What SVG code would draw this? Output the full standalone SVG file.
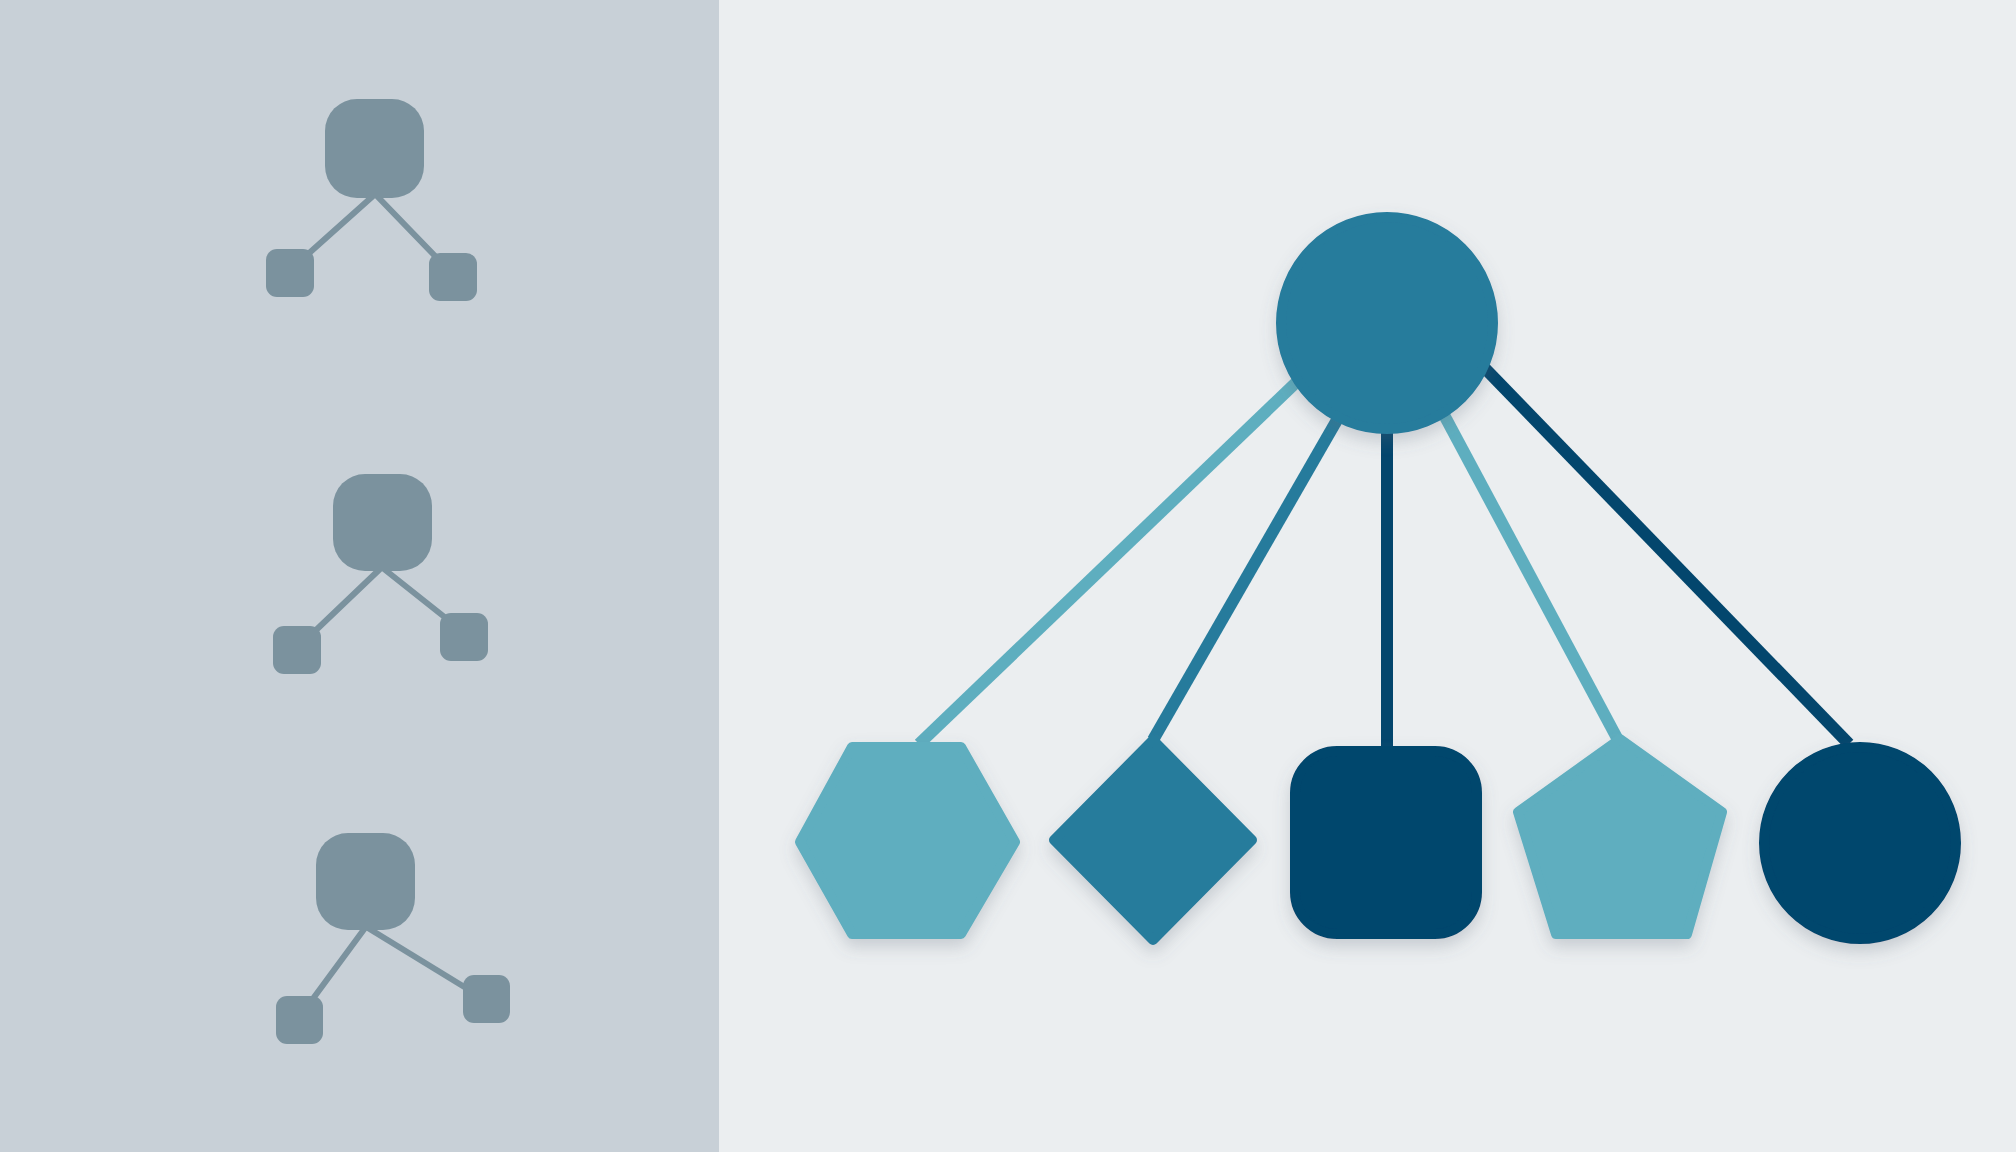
<svg xmlns="http://www.w3.org/2000/svg" width="2016" height="1152" viewBox="0 0 2016 1152">
<defs>
<filter id="sh" x="-20%" y="-20%" width="140%" height="150%">
<feDropShadow dx="0" dy="8" stdDeviation="8" flood-color="#5a6a78" flood-opacity="0.25"/>
</filter>
<style>
.mini{fill:#7b929e}
.mline{stroke:#7b929e;stroke-width:6;stroke-linecap:round;fill:none}
.node{stroke-width:10;stroke-linejoin:round;filter:url(#sh)}
.con{stroke-width:12;fill:none}
.light{fill:#5eaebf;stroke:#5eaebf}
.mid{fill:#267b9c;stroke:#267b9c}
.dark{fill:#03466d;stroke:#03466d}
</style>
</defs>
<rect x="0" y="0" width="2016" height="1152" fill="#ebeef0"/>
<rect x="0" y="0" width="719" height="1152" fill="#c8d0d7"/>

<g id="mini-tree-1">
<line class="mline" x1="373" y1="196" x2="307" y2="255"/>
<line class="mline" x1="377" y1="196" x2="437" y2="258"/>
<rect class="mini" x="325" y="99" width="99" height="99" rx="32"/>
<rect class="mini" x="266" y="249" width="48" height="48" rx="11"/>
<rect class="mini" x="429" y="253" width="48" height="48" rx="11"/>
</g>
<g id="mini-tree-2">
<line class="mline" x1="380" y1="569" x2="314" y2="632"/>
<line class="mline" x1="384" y1="569" x2="447" y2="619"/>
<rect class="mini" x="333" y="474" width="99" height="97" rx="32"/>
<rect class="mini" x="273" y="626" width="48" height="48" rx="11"/>
<rect class="mini" x="440" y="613" width="48" height="48" rx="11"/>
</g>
<g id="mini-tree-3">
<line class="mline" x1="365" y1="928" x2="312" y2="1000"/>
<line class="mline" x1="368" y1="928" x2="466" y2="988"/>
<rect class="mini" x="316" y="833" width="99" height="97" rx="32"/>
<rect class="mini" x="276" y="996" width="47" height="48" rx="11"/>
<rect class="mini" x="463" y="975" width="47" height="48" rx="11"/>
</g>

<g id="connectors">
<line class="con" stroke="#5eaebf" x1="1330" y1="350" x2="919" y2="744"/>
<line class="con" stroke="#267b9c" x1="1360" y1="380" x2="1153" y2="740"/>
<line class="con" stroke="#03466d" x1="1387" y1="400" x2="1387" y2="748"/>
<line class="con" stroke="#5eaebf" x1="1420" y1="370" x2="1617" y2="738"/>
<line class="con" stroke="#03466d" x1="1440" y1="322" x2="1849" y2="744"/>
</g>

<g id="root">
<circle class="node mid" cx="1387" cy="323" r="106"/>
</g>
<g id="hexagon">
<path class="node light" d="M852,747 L961,747 L1015,842 L961,934 L852,934 L800,842 Z"/>
</g>
<g id="diamond">
<path class="node mid" d="M1153,740 L1252,840 L1153,940 L1054,840 Z"/>
</g>
<g id="square">
<rect class="node dark" x="1295" y="751" width="182" height="183" rx="42"/>
</g>
<g id="pentagon">
<path class="node light" d="M1620,739 L1722,812 L1687,934 L1556,934 L1518,812 Z"/>
</g>
<g id="circle">
<circle class="node dark" cx="1860" cy="843" r="96"/>
</g>
</svg>
